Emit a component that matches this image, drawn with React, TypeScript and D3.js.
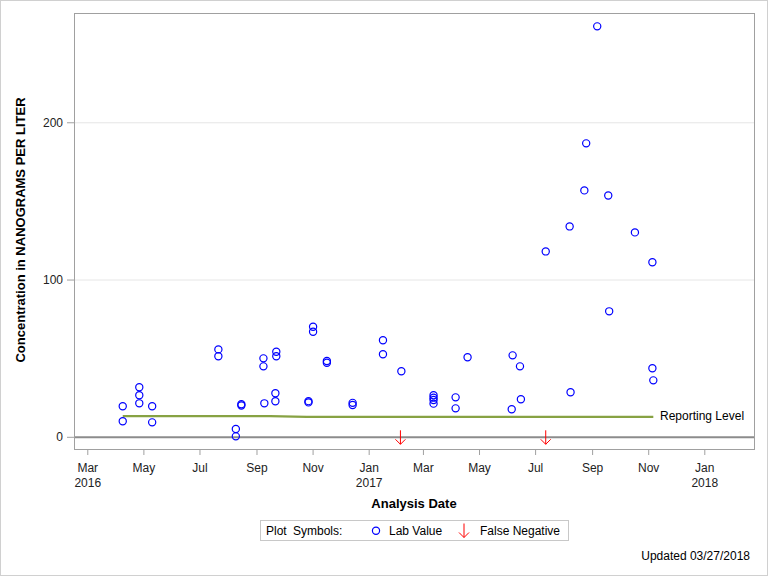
import React from "react";
import * as d3 from "d3";

const labDates = [
  "2016-04-08","2016-04-08","2016-04-26","2016-04-26","2016-04-26","2016-05-10","2016-05-10",
  "2016-07-21","2016-07-21","2016-08-09","2016-08-09","2016-08-15","2016-08-15",
  "2016-09-08","2016-09-08","2016-09-09","2016-09-22","2016-09-22","2016-09-21","2016-09-21",
  "2016-11-01","2016-11-01","2016-10-27","2016-10-27","2016-11-16","2016-11-16",
  "2016-12-14","2016-12-14","2017-01-16","2017-01-16","2017-02-05",
  "2017-03-12","2017-03-12","2017-03-12","2017-03-12","2017-04-05","2017-04-05","2017-04-18",
  "2017-06-06","2017-06-14","2017-06-15","2017-06-05","2017-07-12","2017-08-07","2017-08-08",
  "2017-08-23","2017-08-25","2017-09-06","2017-09-18","2017-09-19","2017-10-17",
  "2017-11-05","2017-11-06","2017-11-05",
];
const labValues = [
  19.7,10.2,31.8,26.7,21.6,19.7,9.5,
  55.9,51.5,5.3,0.6,21.0,20.2,
  50.2,45.1,21.6,54.4,51.5,28.0,22.9,
  70.3,67.1,23.0,22.2,48.5,47.4,
  21.9,20.5,61.7,52.8,42.0,
  26.7,25.2,23.7,21.4,25.4,18.4,50.9,
  52.1,45.1,24.2,17.8,118.2,134.1,28.6,
  157.0,186.9,261.3,153.8,80.1,130.3,
  111.3,36.2,43.9,
];
const fnDates = ["2017-02-04", "2017-07-12"];
const fnValues = [0, 0];
const rlDates = ["2016-04-08","2016-09-15","2016-10-25","2017-06-01","2017-11-06"];
const rlValues = [13.5,13.5,13.0,13.0,13.0];
const yTicks = [0, 100, 200];
const xTickDates = ["2016-03-01","2016-05-01","2016-07-01","2016-09-01","2016-11-01","2017-01-01","2017-03-01","2017-05-01","2017-07-01","2017-09-01","2017-11-01","2018-01-01"];
const xTickMonths = ["Mar","May","Jul","Sep","Nov","Jan","Mar","May","Jul","Sep","Nov","Jan"];
const xTickYears = ["2016","","","","","2017","","","","","","2018"];

const parse = (s: string) => new Date(s + "T00:00:00");
const FONT = "'Liberation Sans', Arial, sans-serif";

export default function App() {
  const W = 768, H = 576;
  const L = 74, R = 754, T = 13, B = 449;
  const x = d3.scaleTime().domain([parse("2016-02-15"), new Date("2018-02-23T12:00:00")]).range([L, R]);
  const y = d3.scaleLinear().domain([-7.44, 269.8]).range([B, T]);
  const rlLine = d3.line<number>().x((_, i) => x(parse(rlDates[i]))).y((v) => y(v));

  return (
    <svg width={W} height={H} style={{ position: "absolute", left: 0, top: 0, fontFamily: FONT }}>
      <rect x={0.5} y={0.5} width={W - 1} height={H - 1} fill="white" stroke="#d0d0d0" />
      {yTicks.filter((t) => t !== 0).map((t) => (
        <line key={"g" + t} x1={L} x2={R} y1={y(t)} y2={y(t)} stroke="#e6e6e6" />
      ))}
      <line x1={L} x2={R} y1={y(0)} y2={y(0)} stroke="#8c8c8c" strokeWidth={2} />
      <path d={rlLine(rlValues) || ""} fill="none" stroke="#87a243" strokeWidth={2.2} />
      <text x={660} y={420} fontSize={12} fill="#000">Reporting Level</text>
      <rect x={L + 0.5} y={T + 0.5} width={R - L} height={B - T} fill="none" stroke="#a0a0a0" />
      {yTicks.map((t) => (
        <g key={"y" + t}>
          <line x1={L - 7} x2={L} y1={y(t)} y2={y(t)} stroke="#a0a0a0" />
          <text x={L - 11} y={y(t) + 4} fontSize={12} textAnchor="end" fill="#222">{t}</text>
        </g>
      ))}
      {xTickDates.map((d, i) => {
        const xx = x(parse(d));
        return (
          <g key={"x" + i}>
            <line x1={xx} x2={xx} y1={B} y2={B + 6} stroke="#a0a0a0" />
            <text x={xx} y={472} fontSize={12} textAnchor="middle" fill="#222">{xTickMonths[i]}</text>
            {xTickYears[i] && <text x={xx} y={487} fontSize={12} textAnchor="middle" fill="#222">{xTickYears[i]}</text>}
          </g>
        );
      })}
      {labValues.map((v, i) => (
        <circle key={"p" + i} cx={x(parse(labDates[i]))} cy={y(v)} r={3.6} fill="none" stroke="#0000ff" strokeWidth={1.2} />
      ))}
      {fnValues.map((v, i) => {
        const cx = x(parse(fnDates[i]));
        const cy = y(v);
        return (
          <g key={"f" + i} stroke="#ff0000" strokeWidth={1} fill="none">
            <line x1={cx} x2={cx} y1={cy - 7} y2={cy + 7} />
            <polyline points={`${cx - 5},${cy + 2} ${cx},${cy + 7} ${cx + 5},${cy + 2}`} />
          </g>
        );
      })}
      <text x={414} y={508} fontSize={13} fontWeight="bold" textAnchor="middle">Analysis Date</text>
      <text transform={`translate(25,230) rotate(-90)`} fontSize={13} fontWeight="bold" textAnchor="middle">Concentration in NANOGRAMS PER LITER</text>
      <rect x={260.5} y={520.5} width={308} height={20} fill="none" stroke="#c8c8c8" />
      <text x={266} y={535} fontSize={12} fill="#000" wordSpacing={3}>Plot Symbols:</text>
      <circle cx={376} cy={530.7} r={3.6} fill="none" stroke="#0000ff" strokeWidth={1.2} />
      <text x={389} y={535} fontSize={12} fill="#000">Lab Value</text>
      <g stroke="#ff0000" strokeWidth={1} fill="none">
        <line x1={464} x2={464} y1={523.5} y2={537.5} />
        <polyline points="459,532.5 464,537.5 469,532.5" />
      </g>
      <text x={480} y={535} fontSize={12} fill="#000">False Negative</text>
      <text x={750} y={560} fontSize={12} textAnchor="end" fill="#000">Updated 03/27/2018</text>
    </svg>
  );
}
